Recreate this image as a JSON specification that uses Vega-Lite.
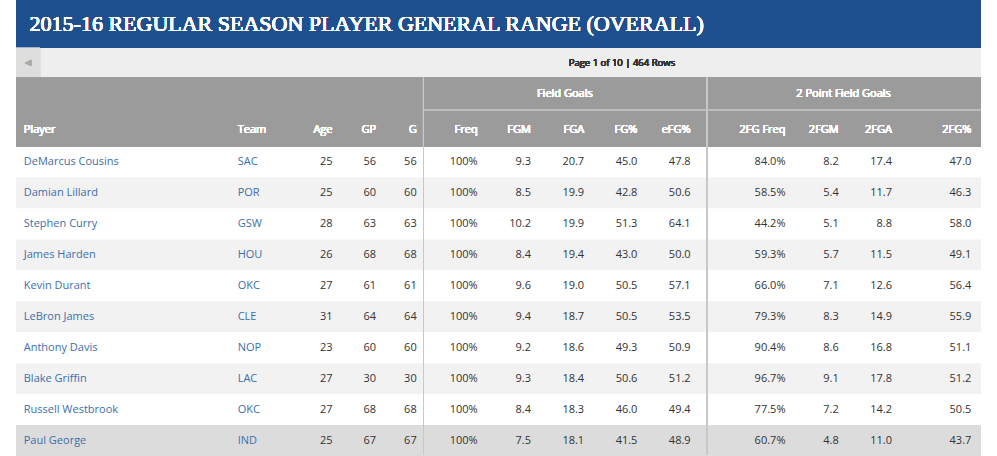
{
"$schema":"https://vega.github.io/schema/vega-lite/v6.json",
"width":997,"height":456,"padding":0,
"autosize":{"type":"fit","contains":"padding"},
"config":{"view":{"stroke":null},"text":{"font":"Open Sans","fontSize":11,"fontWeight":"normal","baseline":"middle"}},
"data":{"values":[
{"rank":0,"player":"DeMarcus Cousins","team":"SAC","age":25,"gp":56,"g":56,"freq":1,"fgm":9.3,"fga":20.7,"fgp":45.0,"efg":47.8,"f2freq":0.840,"f2m":8.2,"f2a":17.4,"f2p":47.0},
{"rank":1,"player":"Damian Lillard","team":"POR","age":25,"gp":60,"g":60,"freq":1,"fgm":8.5,"fga":19.9,"fgp":42.8,"efg":50.6,"f2freq":0.585,"f2m":5.4,"f2a":11.7,"f2p":46.3},
{"rank":2,"player":"Stephen Curry","team":"GSW","age":28,"gp":63,"g":63,"freq":1,"fgm":10.2,"fga":19.9,"fgp":51.3,"efg":64.1,"f2freq":0.442,"f2m":5.1,"f2a":8.8,"f2p":58.0},
{"rank":3,"player":"James Harden","team":"HOU","age":26,"gp":68,"g":68,"freq":1,"fgm":8.4,"fga":19.4,"fgp":43.0,"efg":50.0,"f2freq":0.593,"f2m":5.7,"f2a":11.5,"f2p":49.1},
{"rank":4,"player":"Kevin Durant","team":"OKC","age":27,"gp":61,"g":61,"freq":1,"fgm":9.6,"fga":19.0,"fgp":50.5,"efg":57.1,"f2freq":0.660,"f2m":7.1,"f2a":12.6,"f2p":56.4},
{"rank":5,"player":"LeBron James","team":"CLE","age":31,"gp":64,"g":64,"freq":1,"fgm":9.4,"fga":18.7,"fgp":50.5,"efg":53.5,"f2freq":0.793,"f2m":8.3,"f2a":14.9,"f2p":55.9},
{"rank":6,"player":"Anthony Davis","team":"NOP","age":23,"gp":60,"g":60,"freq":1,"fgm":9.2,"fga":18.6,"fgp":49.3,"efg":50.9,"f2freq":0.904,"f2m":8.6,"f2a":16.8,"f2p":51.1},
{"rank":7,"player":"Blake Griffin","team":"LAC","age":27,"gp":30,"g":30,"freq":1,"fgm":9.3,"fga":18.4,"fgp":50.6,"efg":51.2,"f2freq":0.967,"f2m":9.1,"f2a":17.8,"f2p":51.2},
{"rank":8,"player":"Russell Westbrook","team":"OKC","age":27,"gp":68,"g":68,"freq":1,"fgm":8.4,"fga":18.3,"fgp":46.0,"efg":49.4,"f2freq":0.775,"f2m":7.2,"f2a":14.2,"f2p":50.5},
{"rank":9,"player":"Paul George","team":"IND","age":25,"gp":67,"g":67,"freq":1,"fgm":7.5,"fga":18.1,"fgp":41.5,"efg":48.9,"f2freq":0.607,"f2m":4.8,"f2a":11.0,"f2p":43.7}
]},
"layer":[
{"mark":{"type":"rule","strokeWidth":31,"strokeCap":"butt"},"encoding":{
 "x":{"datum":0,"type":"quantitative","scale":{"domain":[0,997],"nice":false,"zero":false},"axis":null},
 "x2":{"datum":997},
 "y":{"field":"rank","type":"quantitative","scale":{"domain":[-5.242,9.468],"nice":false,"zero":false,"reverse":true},"axis":null},
 "color":{"condition":[{"test":"datum.rank==9","value":"#dcdcdc"},{"test":"datum.rank%2==1","value":"#f2f2f2"}],"value":"#ffffff"}}},
{"mark":{"type":"rect","color":"#1e4f8e"},"encoding":{"x":{"datum":0,"type":"quantitative"},"x2":{"datum":997},"y":{"datum":-5.242,"type":"quantitative"},"y2":{"datum":-3.694}}},
{"mark":{"type":"rect","color":"#eeeeee"},"encoding":{"x":{"datum":0,"type":"quantitative"},"x2":{"datum":997},"y":{"datum":-3.694,"type":"quantitative"},"y2":{"datum":-2.726}}},
{"mark":{"type":"rect","color":"#dddddd"},"encoding":{"x":{"datum":0,"type":"quantitative"},"x2":{"datum":25},"y":{"datum":-3.694,"type":"quantitative"},"y2":{"datum":-2.726}}},
{"mark":{"type":"rect","color":"#9b9b9b"},"encoding":{"x":{"datum":0,"type":"quantitative"},"x2":{"datum":997},"y":{"datum":-2.726,"type":"quantitative"},"y2":{"datum":-0.5}}},
{"mark":{"type":"rule","color":"#bdbdbd","strokeWidth":1,"strokeCap":"butt"},"encoding":{"x":{"datum":421,"type":"quantitative"},"x2":{"datum":997},"y":{"datum":-1.694,"type":"quantitative"}}},
{"mark":{"type":"rule","color":"#c8c8c8","strokeWidth":1,"strokeCap":"butt"},"encoding":{"x":{"datum":421,"type":"quantitative"},"y":{"datum":-2.726,"type":"quantitative"},"y2":{"datum":9.468}}},
{"mark":{"type":"rule","color":"#c8c8c8","strokeWidth":1,"strokeCap":"butt"},"encoding":{"x":{"datum":714,"type":"quantitative"},"y":{"datum":-2.726,"type":"quantitative"},"y2":{"datum":9.468}}},
{"mark":{"type":"text","text":"2015-16 REGULAR SEASON PLAYER GENERAL RANGE (OVERALL)","font":"Liberation Sans Narrow","fontSize":22,"color":"#ffffff","align":"left"},"encoding":{"x":{"datum":14,"type":"quantitative"},"y":{"datum":-4.468,"type":"quantitative"}}},
{"mark":{"type":"text","text":"◀","fontSize":8,"color":"#aaaaaa","align":"center"},"encoding":{"x":{"datum":12.5,"type":"quantitative"},"y":{"datum":-3.21,"type":"quantitative"}}},
{"mark":{"type":"text","text":"Page 1 of 10 | 464 Rows","fontSize":9.5,"color":"#333333","align":"center"},"encoding":{"x":{"datum":626,"type":"quantitative"},"y":{"datum":-3.21,"type":"quantitative"}}},
{"mark":{"type":"text","text":"Field Goals","color":"#ffffff","align":"center"},"encoding":{"x":{"datum":567,"type":"quantitative"},"y":{"datum":-2.21,"type":"quantitative"}}},
{"mark":{"type":"text","text":"2 Point Field Goals","color":"#ffffff","align":"center"},"encoding":{"x":{"datum":855,"type":"quantitative"},"y":{"datum":-2.21,"type":"quantitative"}}},
{"mark":{"type":"text","text":"Player","color":"#ffffff","align":"left"},"encoding":{"x":{"datum":8,"type":"quantitative"},"y":{"datum":-1.048,"type":"quantitative"}}},
{"mark":{"type":"text","text":"Team","color":"#ffffff","align":"left"},"encoding":{"x":{"datum":229,"type":"quantitative"},"y":{"datum":-1.048,"type":"quantitative"}}},
{"mark":{"type":"text","text":"Age","color":"#ffffff","align":"right"},"encoding":{"x":{"datum":327,"type":"quantitative"},"y":{"datum":-1.048,"type":"quantitative"}}},
{"mark":{"type":"text","text":"GP","color":"#ffffff","align":"right"},"encoding":{"x":{"datum":372,"type":"quantitative"},"y":{"datum":-1.048,"type":"quantitative"}}},
{"mark":{"type":"text","text":"G","color":"#ffffff","align":"right"},"encoding":{"x":{"datum":414,"type":"quantitative"},"y":{"datum":-1.048,"type":"quantitative"}}},
{"mark":{"type":"text","text":"Freq","color":"#ffffff","align":"right"},"encoding":{"x":{"datum":477,"type":"quantitative"},"y":{"datum":-1.048,"type":"quantitative"}}},
{"mark":{"type":"text","text":"FGM","color":"#ffffff","align":"right"},"encoding":{"x":{"datum":532,"type":"quantitative"},"y":{"datum":-1.048,"type":"quantitative"}}},
{"mark":{"type":"text","text":"FGA","color":"#ffffff","align":"right"},"encoding":{"x":{"datum":587,"type":"quantitative"},"y":{"datum":-1.048,"type":"quantitative"}}},
{"mark":{"type":"text","text":"FG%","color":"#ffffff","align":"right"},"encoding":{"x":{"datum":642,"type":"quantitative"},"y":{"datum":-1.048,"type":"quantitative"}}},
{"mark":{"type":"text","text":"eFG%","color":"#ffffff","align":"right"},"encoding":{"x":{"datum":697,"type":"quantitative"},"y":{"datum":-1.048,"type":"quantitative"}}},
{"mark":{"type":"text","text":"2FG Freq","color":"#ffffff","align":"right"},"encoding":{"x":{"datum":795,"type":"quantitative"},"y":{"datum":-1.048,"type":"quantitative"}}},
{"mark":{"type":"text","text":"2FGM","color":"#ffffff","align":"right"},"encoding":{"x":{"datum":850,"type":"quantitative"},"y":{"datum":-1.048,"type":"quantitative"}}},
{"mark":{"type":"text","text":"2FGA","color":"#ffffff","align":"right"},"encoding":{"x":{"datum":905,"type":"quantitative"},"y":{"datum":-1.048,"type":"quantitative"}}},
{"mark":{"type":"text","text":"2FG%","color":"#ffffff","align":"right"},"encoding":{"x":{"datum":987,"type":"quantitative"},"y":{"datum":-1.048,"type":"quantitative"}}},
{"mark":{"type":"text","color":"#3d6fa8","align":"left"},"encoding":{"x":{"datum":8,"type":"quantitative"},"y":{"field":"rank","type":"quantitative"},"text":{"field":"player"}}},
{"mark":{"type":"text","color":"#3d6fa8","align":"left"},"encoding":{"x":{"datum":229,"type":"quantitative"},"y":{"field":"rank","type":"quantitative"},"text":{"field":"team"}}},
{"mark":{"type":"text","color":"#333333","align":"right"},"encoding":{"x":{"datum":327,"type":"quantitative"},"y":{"field":"rank","type":"quantitative"},"text":{"field":"age"}}},
{"mark":{"type":"text","color":"#333333","align":"right"},"encoding":{"x":{"datum":372,"type":"quantitative"},"y":{"field":"rank","type":"quantitative"},"text":{"field":"gp"}}},
{"mark":{"type":"text","color":"#333333","align":"right"},"encoding":{"x":{"datum":414,"type":"quantitative"},"y":{"field":"rank","type":"quantitative"},"text":{"field":"g"}}},
{"mark":{"type":"text","color":"#333333","align":"right"},"encoding":{"x":{"datum":477,"type":"quantitative"},"y":{"field":"rank","type":"quantitative"},"text":{"field":"freq","type":"quantitative","format":".0%"}}},
{"mark":{"type":"text","color":"#333333","align":"right"},"encoding":{"x":{"datum":532,"type":"quantitative"},"y":{"field":"rank","type":"quantitative"},"text":{"field":"fgm","type":"quantitative","format":".1f"}}},
{"mark":{"type":"text","color":"#333333","align":"right"},"encoding":{"x":{"datum":587,"type":"quantitative"},"y":{"field":"rank","type":"quantitative"},"text":{"field":"fga","type":"quantitative","format":".1f"}}},
{"mark":{"type":"text","color":"#333333","align":"right"},"encoding":{"x":{"datum":642,"type":"quantitative"},"y":{"field":"rank","type":"quantitative"},"text":{"field":"fgp","type":"quantitative","format":".1f"}}},
{"mark":{"type":"text","color":"#333333","align":"right"},"encoding":{"x":{"datum":697,"type":"quantitative"},"y":{"field":"rank","type":"quantitative"},"text":{"field":"efg","type":"quantitative","format":".1f"}}},
{"mark":{"type":"text","color":"#333333","align":"right"},"encoding":{"x":{"datum":795,"type":"quantitative"},"y":{"field":"rank","type":"quantitative"},"text":{"field":"f2freq","type":"quantitative","format":".1%"}}},
{"mark":{"type":"text","color":"#333333","align":"right"},"encoding":{"x":{"datum":850,"type":"quantitative"},"y":{"field":"rank","type":"quantitative"},"text":{"field":"f2m","type":"quantitative","format":".1f"}}},
{"mark":{"type":"text","color":"#333333","align":"right"},"encoding":{"x":{"datum":905,"type":"quantitative"},"y":{"field":"rank","type":"quantitative"},"text":{"field":"f2a","type":"quantitative","format":".1f"}}},
{"mark":{"type":"text","color":"#333333","align":"right"},"encoding":{"x":{"datum":987,"type":"quantitative"},"y":{"field":"rank","type":"quantitative"},"text":{"field":"f2p","type":"quantitative","format":".1f"}}}
]
}
